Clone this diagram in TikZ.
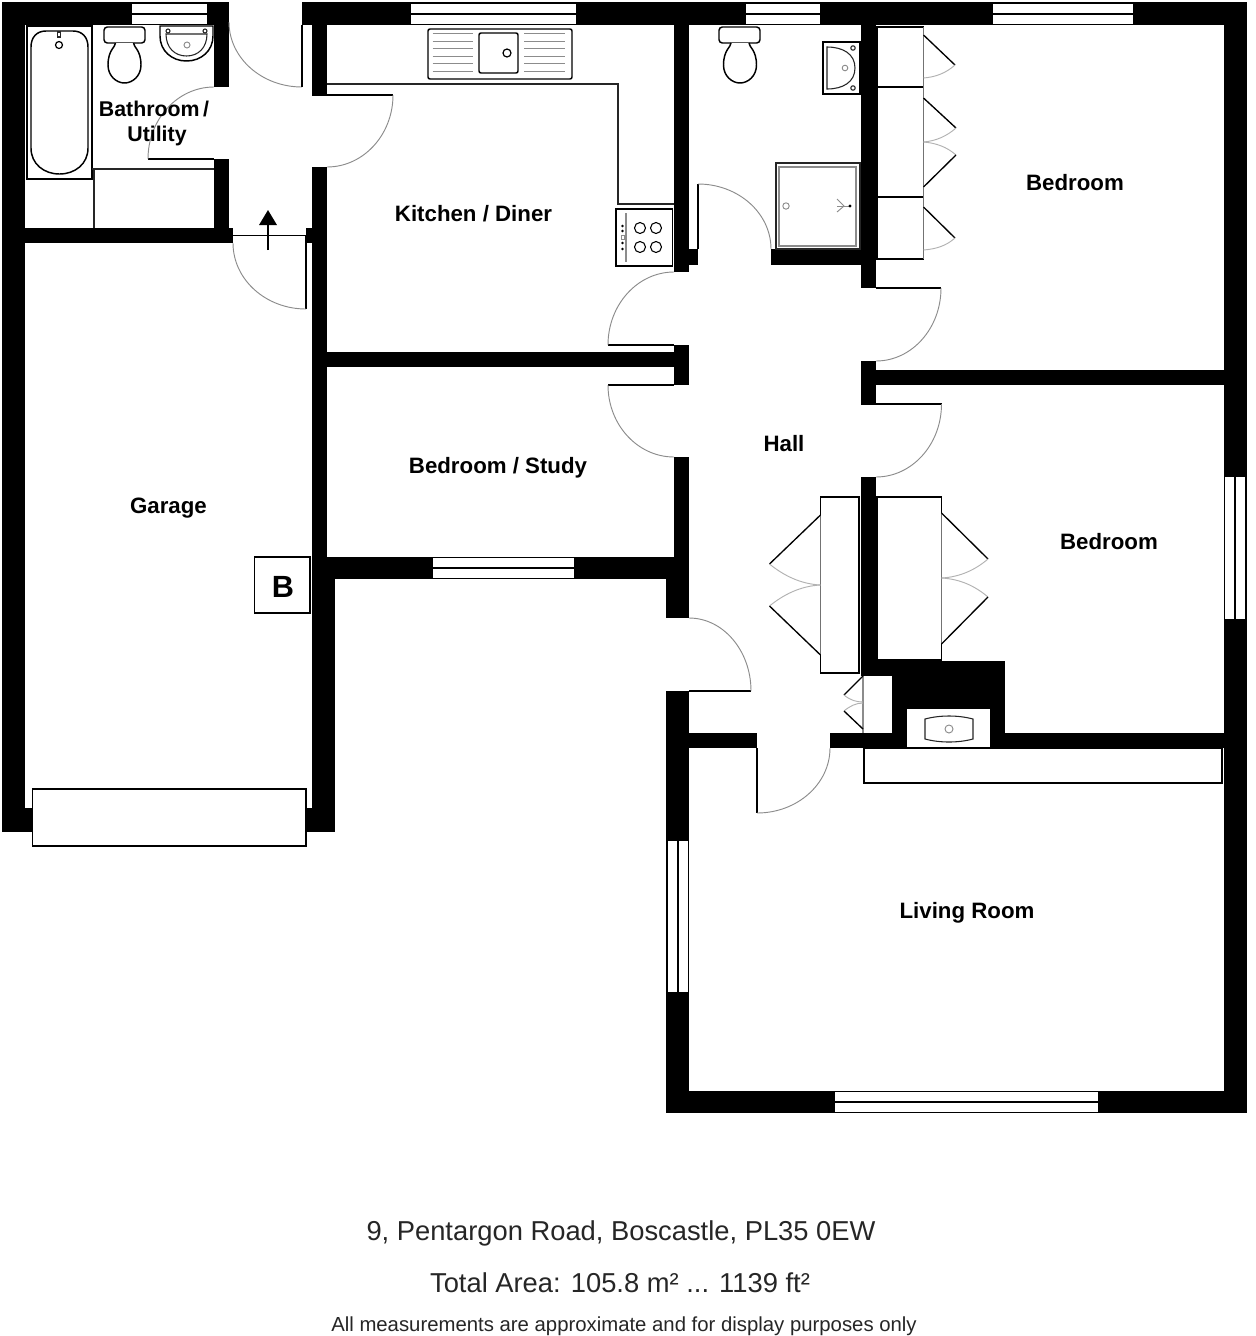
\documentclass[tikz,border=0pt]{standalone}
\usepackage{fontspec}
\setmainfont{Liberation Sans}
\newcommand\archv[4]{\draw[doorarc] (#1,#2) .. controls ({#1+0.552*(#3-#1)},#2) and (#3,{#4-0.552*(#4-#2)}) .. (#3,#4);}
\newcommand\arcvh[4]{\draw[doorarc] (#1,#2) .. controls (#1,{#2+0.552*(#4-#2)}) and ({#3-0.552*(#3-#1)},#4) .. (#3,#4);}
\newcommand\wallrect[4]{\fill[black] (#1,#2) rectangle (#3,#4);}
\newcommand\winh[3]{\draw[winbox] (#1,#3) rectangle (#2,{#3+20}); \draw[winline] (#1,{#3+10}) -- (#2,{#3+10});}
\newcommand\winv[3]{\draw[winbox] (#3,#1) rectangle ({#3+20},#2); \draw[winline] ({#3+10},#1) -- ({#3+10},#2);}
\newcommand\toiletat[3]{\begin{scope}[shift={(#1,0)}]
\draw[fix,rounded corners=2.5] ({-#2},27) rectangle (#3,43);
\draw[fix] (-9,43) .. controls (-9,47) and (-16.5,50) .. (-16.5,65) .. controls (-16.5,76) and (-8,83) .. (0,83) .. controls (8,83) and (16.5,76) .. (16.5,65) .. controls (16.5,50) and (9,47) .. (9,43);
\end{scope}}
\tikzset{
  x=0.75pt,y=-0.75pt,
  winbox/.style={fill=white,draw=none},
  winline/.style={draw=black,line width=1.4pt},
  fix/.style={draw=black,line width=1.1pt,fill=white},
  thinfix/.style={draw=black!85,line width=0.8pt,fill=white},
  greyl/.style={draw=black!45,line width=0.7pt},
  leaf/.style={draw=black,line width=1pt},
  doorarc/.style={draw=black!45,line width=0.7pt},
  lightarc/.style={draw=black!30,line width=0.7pt},
  sideline/.style={draw=black!55,line width=0.8pt},
  room/.style={font=\fontsize{16.7}{18}\selectfont\bfseries,text=black,inner sep=0,anchor=base},
  foot/.style={font=\fontsize{20.5}{22}\selectfont,text=black!85,inner sep=0,anchor=base},
  footsmall/.style={font=\fontsize{15.25}{18}\selectfont,text=black!85,inner sep=0,anchor=base},
}
\begin{document}
\begin{tikzpicture}
\useasboundingbox (0,0) rectangle (1256,1336);
\fill[white] (0,0) rectangle (1256,1336);
% ---- walls
\wallrect{2}{2}{229}{25}
\wallrect{2}{2}{25}{832}
\wallrect{214}{2}{229}{87}
\wallrect{214}{159}{229}{243}
\wallrect{25}{228}{233}{243}
\wallrect{306}{228}{312}{243}
\wallrect{302}{2}{1247}{25}
\wallrect{312}{25}{327}{95}
\wallrect{312}{167}{327}{557}
\wallrect{312}{557}{674}{579}
\wallrect{312}{579}{335}{832}
\wallrect{25}{808}{32}{832}
\wallrect{306}{808}{312}{832}
\wallrect{327}{352}{674}{367}
\wallrect{674}{25}{689}{272}
\wallrect{689}{249}{698}{265}
\wallrect{771}{249}{861}{265}
\wallrect{861}{25}{876}{288}
\wallrect{674}{345}{689}{385}
\wallrect{674}{457}{689}{618}
\wallrect{666}{579}{674}{618}
\wallrect{666}{691}{689}{1113}
\wallrect{689}{733}{757}{748}
\wallrect{861}{361}{876}{404}
\wallrect{876}{370}{1224}{385}
\wallrect{861}{477}{876}{676}
\wallrect{861}{661}{1005}{676}
\wallrect{892}{676}{1005}{709}
\wallrect{892}{709}{907}{748}
\wallrect{990}{709}{1005}{748}
\wallrect{830}{733}{907}{748}
\wallrect{990}{733}{1224}{748}
\wallrect{1224}{2}{1247}{1113}
\wallrect{666}{1091}{1247}{1113}
% ---- windows
\winh{132}{207}{4}
\winh{411}{576}{4}
\winh{746}{820}{4}
\winh{993}{1133}{4}
\winh{433}{574}{558}
\winh{835}{1098}{1092}
\winv{477}{619}{1225}
\winv{841}{992}{668}
% ---- bathroom
\draw[fix] (27,26) rectangle (92,179);
\draw[fix] (31,47) .. controls (31,37) and (37,31) .. (46,31) -- (73,31) .. controls (82,31) and (88,37) .. (88,47) -- (88,148) .. controls (88,164) and (75,174) .. (59.5,174) .. controls (44,174) and (31,164) .. (31,148) -- cycle;
\draw[thinfix] (57.5,32) rectangle (60.5,37);
\draw[fix,line width=0.9pt] (59,45) circle (3.5);
\toiletat{124.5}{20.5}{20.5}
\draw[fix] (160,26) -- (213,26) -- (213,36) .. controls (213,51) and (201,61) .. (186.5,61) .. controls (172,61) and (160,51) .. (160,36) -- cycle;
\draw[thinfix] (166,34) -- (207,34) .. controls (207,48) and (198,56) .. (186.5,56) .. controls (175,56) and (166,48) .. (166,34) -- cycle;
\draw[thinfix] (168,31) circle (2);
\draw[thinfix] (205,31) circle (2);
\draw[greyl] (187,45) circle (3);
\draw[thinfix,fill=none] (92,169) -- (214,169);
\draw[thinfix,fill=none] (94,169) -- (94,228);
\draw[leaf,line width=0.9pt] (148,159) -- (214,159);
\arcvh{229}{22}{302}{87}
\draw[leaf] (302,25) -- (302,87);
\archv{214}{87}{148}{159}
\draw[leaf] (312,95) -- (393,95);
\arcvh{393}{95}{327}{167}
% garage door
\draw[leaf] (233,235.5) -- (306,235.5);
\draw[leaf] (306,235.5) -- (306,309);
\archv{306}{309}{233}{243}
\draw[line width=1.8pt] (268,250) -- (268,224);
\fill (268,210) -- (277,225) -- (259,225) -- cycle;
% ---- kitchen
\draw[thinfix,fill=none] (327,84) -- (618,84) -- (618,204) -- (674,204);
\draw[fix,rounded corners=1.5] (428,29) rectangle (572,79);
\draw[fix,rounded corners=1.5] (479,33) rectangle (518,73);
\draw[fix,line width=0.9pt] (507,53) circle (4);
\foreach \y in {33.5,41,48.5,56,63.5,71}{
  \draw[greyl] (432.5,\y) -- (473,\y);
  \draw[greyl] (524,\y) -- (565,\y);
}
\draw[fix] (616,209) rectangle (672.5,266);
\foreach \cx in {640,656}\foreach \cy in {228,247}{\draw[fix,line width=0.8pt] (\cx,\cy) circle (5.5);}
\draw[greyl,line width=1pt] (626,213) -- (626,262);
\foreach \cy in {226,231,243,249}{\fill (622.5,\cy) circle (1.3);}
\draw[greyl,line width=0.5pt] (621,235) rectangle (624,239);
\draw[leaf,line width=0.9pt] (608,345) -- (674,345);
\archv{674}{272}{608}{345}
% ---- shower room
\toiletat{740}{21}{20}
\draw[fix] (823,42) rectangle (860,94);
\draw[thinfix] (827,47) .. controls (843,47) and (855,54) .. (855,68) .. controls (855,82) and (843,89) .. (827,89) -- cycle;
\draw[thinfix] (853,48) circle (2.2);
\draw[thinfix] (853,88) circle (2.2);
\draw[greyl] (845,68) circle (2.8);
\draw[thinfix,line width=1pt] (776,163) rectangle (860,249);
\draw[greyl,line width=1pt] (779,167) rectangle (856,246);
\draw[greyl] (786,206) circle (3.2);
\draw[greyl] (837,199) -- (844,206) -- (837,212);
\draw[greyl] (837,206) -- (850,206);
\fill (850,206) circle (1.7);
\draw[leaf] (698,184) -- (698,249);
\archv{698}{184}{771}{249}
% ---- bedroom 1 cupboards
\draw[fix] (877,27) rectangle (923.5,87);
\draw[fix] (877,87) rectangle (923.5,197);
\draw[fix] (877,197) rectangle (923.5,259);
\draw[sideline] (923.5,27) -- (923.5,259);
\draw[leaf] (923.5,35) -- (955,65);
\draw[lightarc] (955,65) .. controls (946,73) and (936,77) .. (923.5,78);
\draw[leaf] (923.5,98) -- (956,128);
\draw[lightarc] (956,128) .. controls (947,136) and (936,141) .. (923.5,142);
\draw[lightarc] (923.5,142) .. controls (936,143) and (947,147) .. (956,155);
\draw[leaf] (956,155) -- (923.5,187);
\draw[leaf] (923.5,207) -- (955,238);
\draw[lightarc] (955,238) .. controls (946,246) and (936,249) .. (923.5,250);
\draw[leaf] (876,288) -- (941,288);
\arcvh{941}{288}{876}{361}
% ---- study door
\draw[leaf,line width=0.9pt] (608,385) -- (674,385);
\arcvh{608}{385}{674}{457}
% ---- bedroom 2 door
\draw[leaf] (861,404) -- (941.5,404);
\arcvh{941.5}{404}{876}{477}
% ---- wardrobes
\draw[fix,line width=0.9pt] (820.5,497) rectangle (859,673);
\draw[sideline] (820.5,515) -- (820.5,655);
\draw[leaf] (820.5,515) -- (769.5,564);
\draw[lightarc] (769.5,564) .. controls (783,575) and (800,584) .. (820.5,585);
\draw[lightarc] (820.5,585) .. controls (800,586) and (783,595) .. (769.5,606);
\draw[leaf] (769.5,606) -- (820.5,655);
\draw[fix,line width=0.9pt] (877,497) rectangle (941.5,660);
\draw[sideline] (941.5,513) -- (941.5,644);
\draw[leaf] (941.5,513) -- (988,559);
\draw[lightarc] (988,559) .. controls (975,570) and (960,577) .. (941.5,578);
\draw[lightarc] (941.5,578) .. controls (960,579) and (975,586) .. (988,597);
\draw[leaf] (988,597) -- (941.5,644);
% ---- small cupboard
\draw[greyl,line width=1pt] (863,676) -- (863,733);
\draw[leaf] (863,676) -- (844,695);
\draw[lightarc] (844,695) .. controls (850,700) and (856,702) .. (863,702);
\draw[lightarc] (863,703) .. controls (856,703) and (850,706) .. (844,711);
\draw[leaf] (844,711) -- (863,729);
% ---- front and living doors
\draw[leaf] (689,691) -- (751,691);
\archv{689}{618}{751}{691}
\draw[leaf,line width=0.9pt] (757,748) -- (757,813);
\archv{757}{813}{830}{748}
% ---- living room
\draw[fix,line width=0.9pt] (864,748) rectangle (1222,783);
\draw[thinfix] (925,719) .. controls (940,715) and (958,715) .. (973,719) -- (973,739) .. controls (958,743) and (940,743) .. (925,739) -- cycle;
\draw[greyl] (949,729) circle (4);
% ---- garage fittings
\draw[fix,line width=0.9pt] (254.5,557) rectangle (310,613);
\draw[fix,line width=0.9pt] (32.5,789) rectangle (306,846);
% ---- labels
\node[room,font=\fontsize{16}{18}\selectfont\bfseries] (bathlabel) at (154,116) {Bathroom\,/};
\node[room,font=\fontsize{16}{18}\selectfont\bfseries] (utilitylabel) at (157,141) {Utility};
\node[room] (kitchenlabel) at (473.5,221) {Kitchen / Diner};
\node[room] (bedonelabel) at (1075,190) {Bedroom};
\node[room] (bedtwolabel) at (1109,549) {Bedroom};
\node[room] (halllabel) at (784,451) {Hall};
\node[room] (studylabel) at (498,473) {Bedroom / Study};
\node[room] (garagelabel) at (168.5,513) {Garage};
\node[room] (livinglabel) at (967,918) {Living Room};
\node[room,font=\fontsize{23}{24}\selectfont\bfseries] (boilerlabel) at (283,597) {B};
\node[foot] (addresslabel) at (621,1240) {9, Pentargon Road, Boscastle, PL35 0EW};
\node[foot] (arealabel) at (620,1292) {Total Area: 105.8 m² ... 1139 ft²};
\node[footsmall] (notelabel) at (624,1331) {All measurements are approximate and for display purposes only};
\end{tikzpicture}
\end{document}
